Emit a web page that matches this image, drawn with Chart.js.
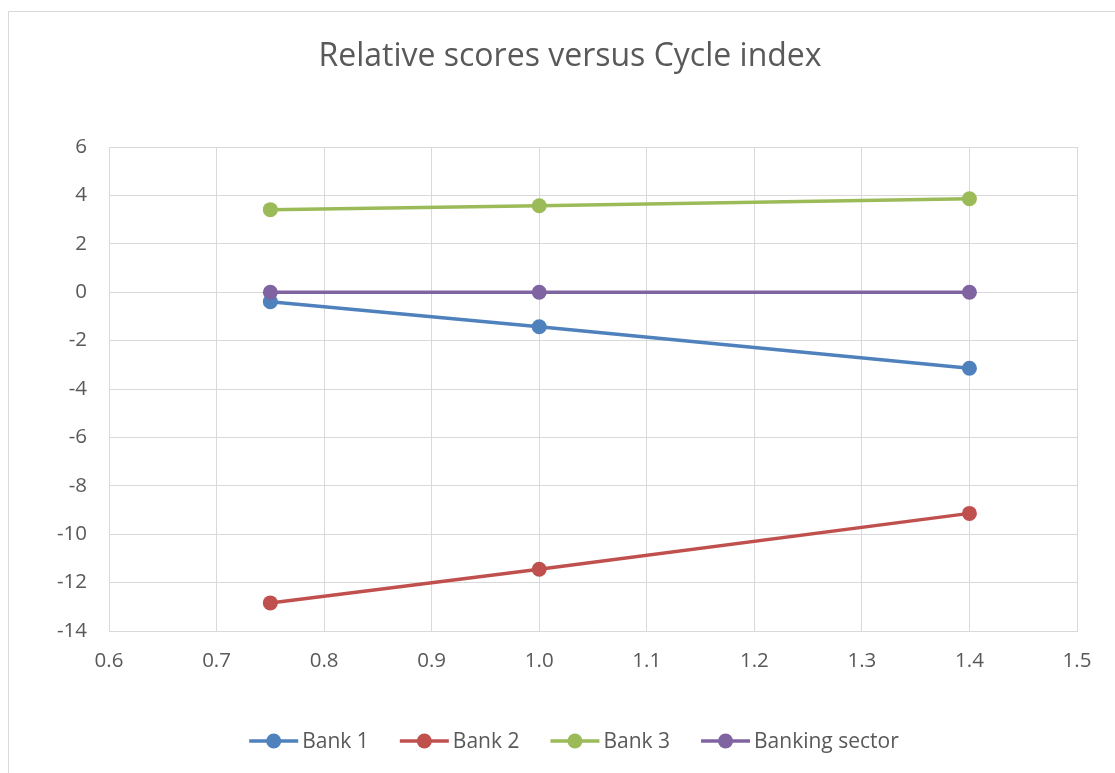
<!DOCTYPE html>
<html><head><meta charset="utf-8">
<script src="https://cdn.jsdelivr.net/npm/chart.js@4.4.0/dist/chart.umd.min.js"></script>
<style>html,body{margin:0;padding:0;background:#fff}canvas{display:block}</style>
</head><body>
<canvas id="c" width="1115" height="773"></canvas>
<script>
const chartTitle = 'Relative scores versus Cycle index';
const cycleIndex = [0.75, 1.0, 1.4];
const bank1 = [-0.39, -1.43, -3.14];
const bank2 = [-12.84, -11.45, -9.14];
const bank3 = [3.41, 3.57, 3.86];
const bankingSector = [0, 0, 0];
const seriesNames = ['Bank 1', 'Bank 2', 'Bank 3', 'Banking sector'];
const seriesValues = [bank1, bank2, bank3, bankingSector];
const seriesColors = ['#4F81BD', '#C0504D', '#9BBB59', '#8064A2'];
const xRange = [0.6, 1.5, 0.1];
const yRange = [-14, 6, 2];

const FONT = "'Open Sans', sans-serif";
const TEXT = '#595959';
const GRID = '#d9d9d9';

const datasets = seriesNames.map((name, i) => ({
  label: name,
  data: cycleIndex.map((x, j) => ({x: x, y: seriesValues[i][j]})),
  borderColor: seriesColors[i],
  backgroundColor: seriesColors[i],
  borderWidth: 3.5,
  pointRadius: 7.5,
  pointHoverRadius: 7.5,
  pointBorderWidth: 0,
  showLine: true,
  tension: 0,
  order: seriesNames.length - 1 - i
}));

const decor = {
  id: 'decor',
  beforeDraw(chart) {
    const ctx = chart.ctx;
    ctx.save();
    ctx.strokeStyle = GRID;
    ctx.lineWidth = 1;
    ctx.beginPath();
    ctx.moveTo(8.5, chart.height);
    ctx.lineTo(8.5, 11.5);
    ctx.lineTo(chart.width, 11.5);
    ctx.stroke();
    ctx.restore();
  },
  afterDraw(chart) {
    const ctx = chart.ctx;
    ctx.save();
    // title
    ctx.fillStyle = TEXT;
    ctx.font = "32px " + FONT;
    ctx.textAlign = 'center';
    ctx.textBaseline = 'middle';
    ctx.fillText(chartTitle, 570, 57);
    // legend
    ctx.font = "21px " + FONT;
    ctx.textAlign = 'left';
    const lineLen = 49, gapText = 4, gapItem = 31;
    const widths = seriesNames.map(n => lineLen + gapText + ctx.measureText(n).width);
    const total = widths.reduce((a, b) => a + b, 0) + gapItem * (seriesNames.length - 1);
    let x = 574 - total / 2;
    const y = 741;
    seriesNames.forEach((n, i) => {
      ctx.strokeStyle = seriesColors[i];
      ctx.fillStyle = seriesColors[i];
      ctx.lineWidth = 3.5;
      ctx.beginPath();
      ctx.moveTo(x, y);
      ctx.lineTo(x + lineLen, y);
      ctx.stroke();
      ctx.beginPath();
      ctx.arc(x + lineLen / 2, y, 7.5, 0, Math.PI * 2);
      ctx.fill();
      ctx.fillStyle = TEXT;
      ctx.fillText(n, x + lineLen + gapText, y + 1);
      x += widths[i] + gapItem;
    });
    ctx.restore();
  }
};

new Chart(document.getElementById('c'), {
  type: 'scatter',
  data: {datasets: datasets},
  options: {
    responsive: false,
    animation: false,
    layout: {padding: {left: 9, right: 38, top: 147, bottom: 92}},
    plugins: {legend: {display: false}, title: {display: false}, tooltip: {enabled: false}},
    scales: {
      x: {
        type: 'linear', min: xRange[0], max: xRange[1],
        afterFit(s) { s.height = 50; },
        grid: {color: GRID, drawTicks: false},
        border: {color: GRID},
        ticks: {stepSize: xRange[2], padding: 18, color: TEXT, font: {family: FONT, size: 20.5},
          callback: v => Number(v).toFixed(1)}
      },
      y: {
        type: 'linear', min: yRange[0], max: yRange[1],
        afterFit(s) { s.width = 100; },
        grid: {color: GRID, drawTicks: false},
        border: {color: GRID},
        ticks: {stepSize: yRange[2], padding: 22, color: TEXT, font: {family: FONT, size: 20.5}}
      }
    }
  },
  plugins: [decor]
});
</script>
</body></html>
